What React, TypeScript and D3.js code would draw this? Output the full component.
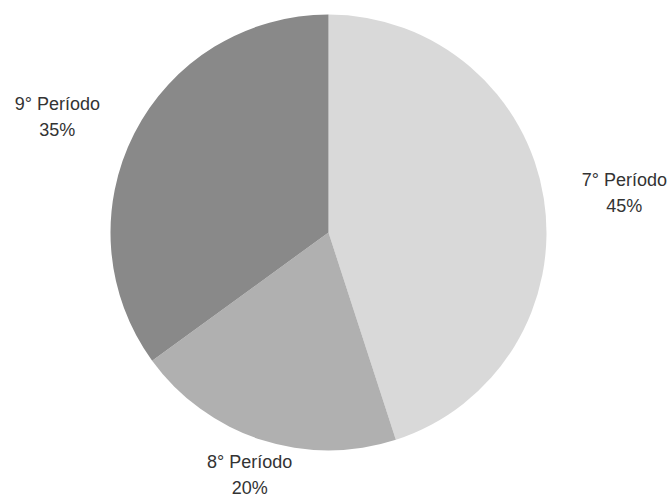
import React from "react";
import * as d3 from "d3";

const categories = ["7° Período", "8° Período", "9° Período"];
const values = [45, 20, 35];
const colors = ["#d9d9d9", "#b0b0b0", "#898989"];

const W = 669;
const H = 498;

export default function App() {
  const cx = 328.5;
  const cy = 232.5;
  const r = 218;
  const labelR = 255;
  const halfLabel = 44;
  const lineGap = 26;
  const pie = d3.pie<number>().sort(null).value((d) => d)(values);
  const arc = d3.arc<d3.PieArcDatum<number>>().innerRadius(0).outerRadius(r);
  const total = d3.sum(values);
  return (
    <svg width={W} height={H} style={{ position: "absolute", left: 0, top: 0, background: "#fff" }}>
      <g transform={`translate(${cx},${cy})`}>
        {pie.map((p, i) => (
          <path key={i} d={arc(p) || ""} fill={colors[i]} />
        ))}
        {pie.map((p, i) => {
          const a = (p.startAngle + p.endAngle) / 2;
          const s = Math.sin(a);
          const shift = Math.abs(s) < 0.5 ? 0 : Math.sign(s) * halfLabel;
          const x = labelR * s + shift;
          const y = -labelR * Math.cos(a);
          return (
            <text
              key={"t" + i}
              textAnchor="middle"
              fontFamily="Liberation Sans, Arial, sans-serif"
              fontSize={18}
              fill="#333"
            >
              <tspan x={x} y={y - lineGap / 2} dy="0.35em">{categories[i]}</tspan>
              <tspan x={x} y={y + lineGap / 2} dy="0.35em">{Math.round((values[i] / total) * 100)}%</tspan>
            </text>
          );
        })}
      </g>
    </svg>
  );
}
